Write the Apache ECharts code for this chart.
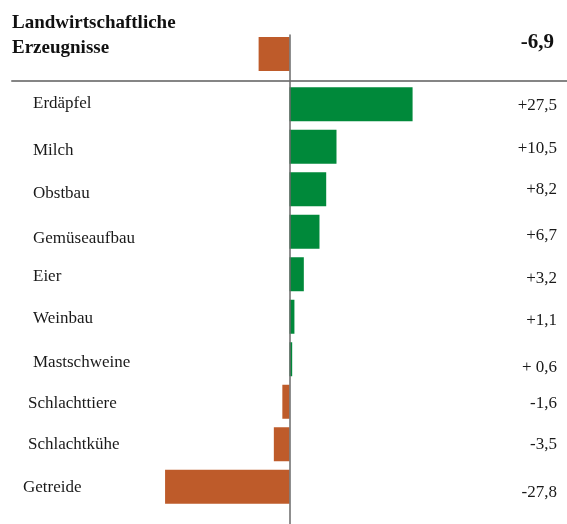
<!DOCTYPE html>
<html>
<head>
<meta charset="utf-8">
<script src="https://cdn.jsdelivr.net/npm/echarts@6/dist/echarts.min.js"></script>
<style>html,body{margin:0;padding:0;background:#fff}#c{width:567px;height:524px}</style>
</head>
<body>
<div id="c"></div>
<script>
// ---- data ----
const headerTitle = 'Landwirtschaftliche\nErzeugnisse';
const headerValue = -6.9;
const headerLabel = '-6,9';
const categories = ['Erdäpfel','Milch','Obstbau','Gemüseaufbau','Eier','Weinbau','Mastschweine','Schlachttiere','Schlachtkühe','Getreide'];
const values = [27.5, 10.5, 8.2, 6.7, 3.2, 1.1, 0.6, -1.6, -3.5, -27.8];
const valueLabels = ['+27,5','+10,5','+8,2','+6,7','+3,2','+1,1','+ 0,6','-1,6','-3,5','-27,8'];

// ---- styling ----
const ORANGE = '#BE5B2A', GREEN = '#00893A', FONT = '"Liberation Serif", "DejaVu Serif", serif';
const catIndent = [10,10,10,10,10,10,10,5,5,0];
const catNudge  = [-1,4,4,7,2,2,3,2,0,1];
const valNudge  = [1,2,0,4,4,4,8,2,0,6];
function pad(dy, dx){ return [Math.max(0,2*dy),0,Math.max(0,-2*dy),dx||0]; }
const catRich = {}, valRich = {};
categories.forEach((c,i)=>{ catRich['c'+i] = {padding: pad(catNudge[i], catIndent[i]), fontSize:17, fontFamily:FONT, color:'#1a1a1a'}; });
valueLabels.forEach((v,i)=>{ valRich['v'+i] = {padding: pad(valNudge[i]), fontSize:17, fontFamily:FONT, color:'#1a1a1a'}; });

const XMIN = -62, XMAX = 62;
const hiddenX = (gi, extra) => Object.assign({type:'value', gridIndex:gi, min:XMIN, max:XMAX,
  axisLabel:{show:false}, axisTick:{show:false}, splitLine:{show:false}, axisLine:{show:false}}, extra||{});

const chart = echarts.init(document.getElementById('c'));
chart.setOption({
  animation:false,
  title:{text:headerTitle, left:12, top:11, padding:0, textStyle:{fontFamily:FONT, fontSize:19, fontWeight:'bold', lineHeight:25, color:'#111'}},
  grid:[
    {left:12, right:0, top:37, height:34},   // header
    {left:12, right:0, top:83, height:425},  // main
    {left:12, right:0, top:35, bottom:0}     // frame for zero line
  ],
  xAxis:[
    hiddenX(0, {axisLine:{show:true, onZero:false, lineStyle:{color:'#858585', width:2}}, offset:10}),
    hiddenX(1),
    hiddenX(2)
  ],
  yAxis:[
    {type:'category', gridIndex:0, data:[''], axisLine:{show:false}, axisTick:{show:false}, axisLabel:{show:false}},
    {type:'category', gridIndex:0, position:'right', data:[headerLabel], axisLine:{show:false}, axisTick:{show:false},
      axisLabel:{align:'right', margin:-13, formatter:v=>'{h|'+v+'}', rich:{h:{fontFamily:FONT, fontSize:21, fontWeight:'bold', color:'#111', padding:[0,0,22,0]}}}},
    {type:'category', gridIndex:1, inverse:true, data:categories, axisLine:{show:false}, axisTick:{show:false},
      axisLabel:{align:'left', margin:-11, formatter:(v,i)=>'{c'+i+'|'+v+'}', rich:catRich}},
    {type:'category', gridIndex:1, inverse:true, position:'right', data:valueLabels, axisLine:{show:false}, axisTick:{show:false},
      axisLabel:{align:'right', margin:-10, formatter:(v,i)=>'{v'+i+'|'+v+'}', rich:valRich}},
    {type:'category', gridIndex:2, data:[''], axisLine:{show:true, onZero:true, lineStyle:{color:'#6a6a6a', width:1.5}}, axisTick:{show:false}, axisLabel:{show:false}, z:10}
  ],
  series:[
    {type:'bar', xAxisIndex:0, yAxisIndex:0, data:[headerValue], barWidth:34,
      itemStyle:{color:p=>p.value<0?ORANGE:GREEN}},
    {type:'bar', xAxisIndex:1, yAxisIndex:2, data:values, barWidth:34,
      itemStyle:{color:p=>p.value<0?ORANGE:GREEN}}
  ]
});
</script>
</body>
</html>
